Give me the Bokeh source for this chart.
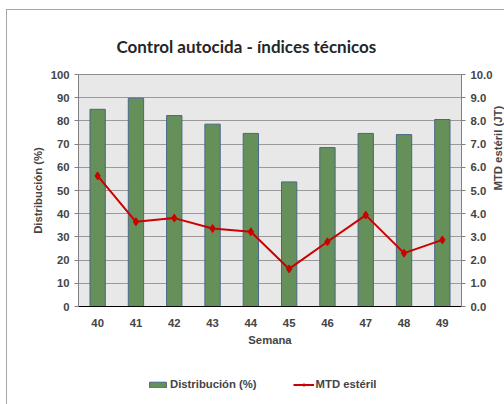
import math
from bokeh.plotting import figure
from bokeh.layouts import column
from bokeh.models import (Range1d, FactorRange, LinearAxis, Legend, LegendItem, Title,
                          FixedTicker, NumeralTickFormatter)
from bokeh.embed import file_html
from bokeh.resources import INLINE

# ---- data ----
semanas = ["40", "41", "42", "43", "44", "45", "46", "47", "48", "49"]
distribucion = [85.0, 89.8, 82.3, 78.6, 74.6, 53.7, 68.5, 74.6, 74.1, 80.6]
mtd_esteril = [5.63, 3.65, 3.81, 3.36, 3.22, 1.62, 2.79, 3.94, 2.30, 2.87]
left_ticks = [0, 10, 20, 30, 40, 50, 60, 70, 80, 90, 100]
right_ticks = [0, 1, 2, 3, 4, 5, 6, 7, 8, 9, 10]

FONT = "Liberation Sans"
FS = "11.3px"
BAR_FILL = "#66905a"
BAR_LINE = "#4a6688"
RED = "#cc0000"

p = figure(x_range=semanas, y_range=Range1d(0, 100),
           frame_width=383, frame_height=232,
           min_border_left=78, min_border_right=43,
           min_border_top=74, min_border_bottom=44,
           output_backend="svg", toolbar_location=None,
           background_fill_color="#e8e8e8", border_fill_color=None,
           outline_line_color="#8c8c8c", outline_line_width=1)

p.title = Title(text="Control autocida - índices técnicos", align="left",
                offset=38, standoff=36, text_font="Lato",
                text_font_size="17px", text_font_style="bold",
                text_color="#262626")

p.extra_y_ranges = {"mtd": Range1d(0, 10)}

# left axis
ya = p.yaxis[0]
ya.ticker = FixedTicker(ticks=left_ticks)
ya.axis_label = "Distribución (%)"
ya.axis_label_text_font = FONT
ya.axis_label_text_font_style = "bold"
ya.axis_label_text_font_size = FS
ya.axis_label_standoff = 4
ya.major_label_text_font = FONT
ya.major_label_text_font_style = "bold"
ya.major_label_text_font_size = FS
ya.major_label_standoff = 5
ya.major_tick_out = 4
ya.major_tick_in = 0
ya.minor_tick_line_color = None
ya.axis_line_color = "#808080"
ya.major_tick_line_color = "#808080"

# x axis
xa = p.xaxis[0]
xa.axis_label = "Semana"
xa.axis_label_text_font = FONT
xa.axis_label_text_font_style = "bold"
xa.axis_label_text_font_size = FS
xa.axis_label_standoff = 4
xa.major_label_text_font = FONT
xa.major_label_text_font_style = "bold"
xa.major_label_text_font_size = FS
xa.major_label_standoff = 6
xa.major_tick_line_color = None
xa.axis_line_color = "black"

# right axis
ra = LinearAxis(y_range_name="mtd", ticker=FixedTicker(ticks=right_ticks),
                formatter=NumeralTickFormatter(format="0.0"))
ra.axis_label = "MTD estéril (JT)"
ra.axis_label_orientation = math.pi / 2
ra.axis_label_text_font = FONT
ra.axis_label_text_font_style = "bold"
ra.axis_label_text_font_size = FS
ra.axis_label_standoff = 3
ra.major_label_text_font = FONT
ra.major_label_text_font_style = "bold"
ra.major_label_text_font_size = FS
ra.major_label_standoff = 5
ra.major_tick_out = 4
ra.major_tick_in = 0
ra.minor_tick_line_color = None
ra.axis_line_color = "#808080"
ra.major_tick_line_color = "#808080"
p.add_layout(ra, "right")

p.xgrid.grid_line_color = None
p.ygrid.grid_line_color = "#9a9a9a"
p.ygrid.ticker = FixedTicker(ticks=left_ticks)

p.vbar(x=semanas, top=distribucion, width=0.4,
       fill_color=BAR_FILL, line_color=BAR_LINE, line_width=1)
p.line(x=semanas, y=mtd_esteril, y_range_name="mtd",
       line_color=RED, line_width=2)
p.scatter(x=semanas, y=mtd_esteril, y_range_name="mtd",
          marker="diamond", size=8, fill_color=RED, line_color=RED)

# ---- legend strip below the chart (its renderers fall outside its visible range) ----
lg = figure(width=504, height=54, x_range=FactorRange(*semanas), y_range=Range1d(200, 201),
            x_axis_type=None, y_axis_type=None,
            min_border=0, output_backend="svg", toolbar_location=None,
            background_fill_color=None, border_fill_color=None,
            outline_line_color=None)
lg.grid.visible = False
lb = lg.vbar(x=semanas, top=distribucion, width=0.4,
             fill_color=BAR_FILL, line_color=BAR_LINE, line_width=1)
ll = lg.line(x=semanas, y=mtd_esteril, line_color=RED, line_width=2)
lp = lg.scatter(x=semanas, y=mtd_esteril, marker="diamond", size=8,
                fill_color=RED, line_color=RED)

legend = Legend(items=[LegendItem(label="Distribución (%)", renderers=[lb]),
                       LegendItem(label="MTD estéril", renderers=[ll, lp])],
                orientation="horizontal", location=(69, 14),
                padding=0, margin=0, spacing=36,
                glyph_width=21, glyph_height=7, label_standoff=2,
                label_height=7,
                label_text_font=FONT, label_text_font_style="bold",
                label_text_font_size=FS,
                border_line_color=None, background_fill_alpha=0)
lg.add_layout(legend)

layout = column(p, lg, spacing=0)
layout.styles = {"background": "linear-gradient(#a6a6a6, #a6a6a6) 6px 9px / 1px 100% no-repeat, "
                               "linear-gradient(#a6a6a6, #a6a6a6) 6px 9px / 100% 1px no-repeat, white"}

open("out.html", "w").write(file_html(layout, INLINE))
